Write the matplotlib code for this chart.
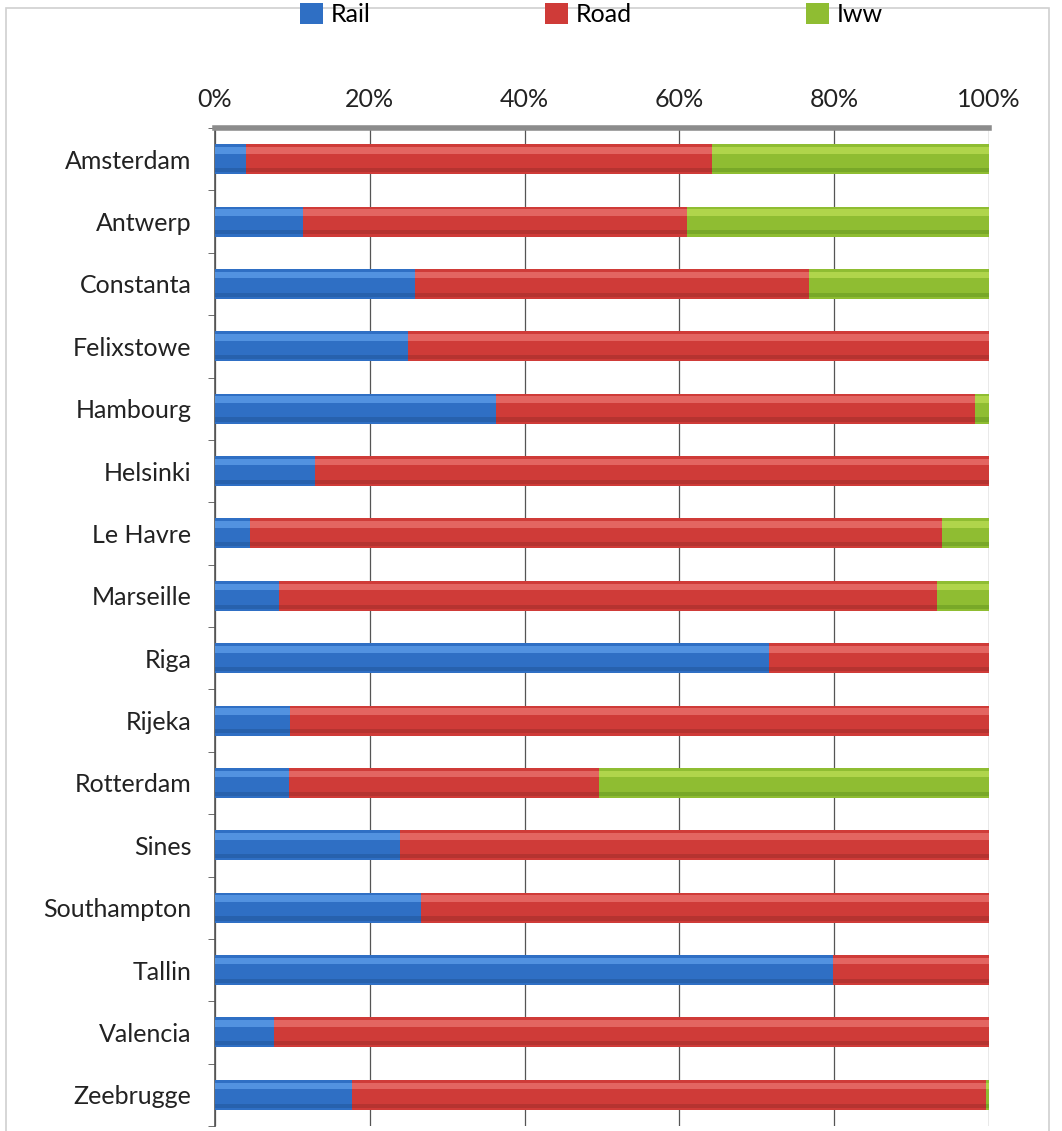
import matplotlib
matplotlib.use("Agg")
import matplotlib.pyplot as plt
import numpy as np
from matplotlib.patches import Rectangle

ports = ["Amsterdam", "Antwerp", "Constanta", "Felixstowe", "Hambourg", "Helsinki",
         "Le Havre", "Marseille", "Riga", "Rijeka", "Rotterdam", "Sines",
         "Southampton", "Tallin", "Valencia", "Zeebrugge"]
rail = [4.0, 11.4, 25.8, 24.9, 36.3, 12.9, 4.5, 8.3, 71.6, 9.7, 9.6, 23.9, 26.6, 79.8, 7.6, 17.7]
road = [60.2, 49.6, 50.9, 75.1, 61.9, 87.1, 89.4, 85.0, 28.4, 90.3, 40.0, 76.1, 73.4, 20.2, 92.4, 81.9]
iww = [35.8, 39.0, 23.3, 0.0, 1.8, 0.0, 6.1, 6.7, 0.0, 0.0, 50.4, 0.0, 0.0, 0.0, 0.0, 0.4]
series_names = ["Rail", "Road", "Iww"]
series_colors = ["#2f6fc4", "#cf3b38", "#8fbd32"]
series_light = ["#5b9ce8", "#e9706c", "#b9dc52"]
series_dark = ["#22589f", "#a52f2c", "#6a9a22"]
xticks = [0, 20, 40, 60, 80, 100]

plt.rcParams['font.family'] = ['Lato', 'DejaVu Sans']
fig = plt.figure(figsize=(10.62, 11.31), dpi=100)
ax = fig.add_axes([0.2024, 0.0044, 0.7288, 0.8824])

y = np.arange(len(ports))
h = 0.48
data = [rail, road, iww]
left = np.zeros(len(ports))
for vals, c, lc, dc, name in zip(data, series_colors, series_light, series_dark, series_names):
    vals = np.array(vals)
    ax.barh(y, vals, left=left, height=h, color=c, edgecolor='none', zorder=3, label=name)
    # shading layers for a glossy look
    ax.barh(y - h * 0.30, vals, left=left, height=h * 0.22, color=lc, edgecolor='none', zorder=4, alpha=0.8)
    ax.barh(y + h * 0.36, vals, left=left, height=h * 0.14, color=dc, edgecolor='none', zorder=4, alpha=0.6)
    left = left + vals

ax.set_xlim(0, 100)
ax.set_ylim(len(ports) - 0.5, -0.5)
ax.xaxis.tick_top()
ax.set_xticks(xticks)
ax.set_xticklabels([f"{t}%" for t in xticks], fontsize=18, color='#222222')
ax.tick_params(axis='x', length=0, pad=12)
ax.set_yticks(y)
ax.set_yticklabels(ports, fontsize=18, color='#222222')
ax.tick_params(axis='y', length=0, pad=17)
ax.set_yticks(np.arange(-0.5, len(ports), 1), minor=True)
ax.tick_params(axis='y', which='minor', length=5, color='#555555', direction='out')
ax.grid(axis='x', color='#555555', linewidth=0.9, zorder=1)
for s in ['right', 'bottom']:
    ax.spines[s].set_visible(False)
ax.spines['top'].set_color('#8c8c8c')
ax.spines['top'].set_linewidth(4)
ax.spines['left'].set_color('#555555')
ax.spines['left'].set_linewidth(1.2)

handles, labels = ax.get_legend_handles_labels()
fig.legend(handles, labels, loc='center', bbox_to_anchor=(0.557, 0.987), ncol=3, frameon=False,
           fontsize=18, handlelength=0.9, handleheight=0.9, columnspacing=7.0, handletextpad=0.3)

# outer frame
fig.patches.append(Rectangle((0.006, -0.01), 0.982, 1.003, transform=fig.transFigure,
                             fill=False, edgecolor='#d0d0d0', linewidth=1.2))

fig.savefig("out.png", dpi=100, facecolor='white')
